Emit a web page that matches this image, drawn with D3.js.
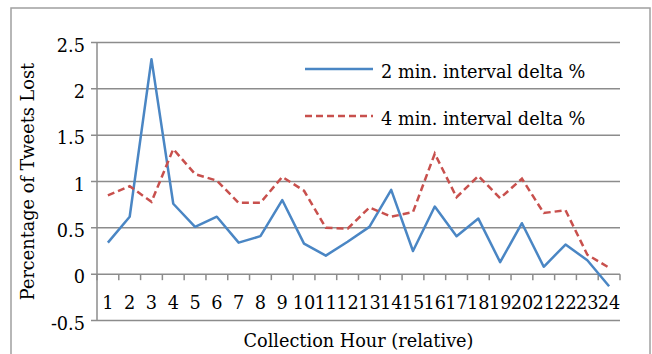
<!DOCTYPE html>
<html>
<head>
<meta charset="utf-8">
<script src="https://cdn.jsdelivr.net/npm/d3@7/dist/d3.min.js"></script>
<style>
  html, body { margin: 0; padding: 0; background: #fff; }
  svg { display: block; }
  text { font-family: "DejaVu Serif", serif; fill: #000; }
</style>
</head>
<body>
<svg id="chart" width="652" height="354"></svg>
<script>
// Collection hours (relative) and per-hour loss percentages
const hours = d3.range(1, 25).map(String);
const twoMinDelta = [0.34, 0.62, 2.32, 0.76, 0.51, 0.62, 0.34, 0.41, 0.80, 0.33, 0.20, 0.35,
                     0.51, 0.91, 0.25, 0.73, 0.41, 0.60, 0.13, 0.55, 0.08, 0.32, 0.15, -0.13];
const fourMinDelta = [0.85, 0.95, 0.78, 1.35, 1.08, 1.01, 0.77, 0.77, 1.05, 0.90, 0.50, 0.49,
                      0.72, 0.62, 0.67, 1.30, 0.83, 1.06, 0.82, 1.03, 0.66, 0.69, 0.21, 0.07];
const yTicks = [-0.5, 0, 0.5, 1, 1.5, 2, 2.5];
const seriesNames = ["2 min. interval delta %", "4 min. interval delta %"];

const svg = d3.select("#chart");
const gridColor = "#8c8c8c";
const fontSize = 17.7;

// outer chart frame
svg.append("rect")
  .attr("x", 11).attr("y", 8).attr("width", 639).attr("height", 360)
  .attr("fill", "none").attr("stroke", "#a0a0a0").attr("stroke-width", 1.5);

const x = d3.scaleBand().domain(hours).range([97, 620]).padding(0);
const y = d3.scaleLinear().domain([-0.5, 2.5]).range([320.5, 42.5]);

// horizontal gridlines (extend left as tick marks)
svg.append("g").selectAll("line").data(yTicks).join("line")
  .attr("x1", 91).attr("x2", 620)
  .attr("y1", d => y(d)).attr("y2", d => y(d))
  .attr("stroke", gridColor).attr("stroke-width", 1.5);

// vertical value axis
svg.append("line")
  .attr("x1", 97).attr("x2", 97).attr("y1", y(2.5)).attr("y2", y(-0.5))
  .attr("stroke", gridColor).attr("stroke-width", 1.5);

// y tick labels (plain hyphen for negatives)
svg.append("g").selectAll("text").data(yTicks).join("text")
  .attr("x", 85).attr("y", d => y(d) + 9)
  .attr("text-anchor", "end")
  .attr("font-size", fontSize)
  .text(d => String(d));

// category tick marks hanging below the zero line
const boundaries = hours.map(h => x(h)).concat([x.range()[1]]);
svg.append("g").selectAll("line").data(boundaries).join("line")
  .attr("x1", d => d).attr("x2", d => d)
  .attr("y1", y(0)).attr("y2", y(0) + 6)
  .attr("stroke", gridColor).attr("stroke-width", 1.5);

// category labels
svg.append("g").selectAll("text").data(hours).join("text")
  .attr("x", d => x(d) + x.bandwidth() / 2).attr("y", 309)
  .attr("text-anchor", "middle")
  .attr("font-size", fontSize)
  .text(d => d);

// series lines
const line = d3.line()
  .x((d, i) => x(hours[i]) + x.bandwidth() / 2)
  .y(d => y(d));

svg.append("path").datum(twoMinDelta)
  .attr("d", line).attr("fill", "none")
  .attr("stroke", "#4a86c4").attr("stroke-width", 2.5)
  .attr("stroke-linejoin", "round");

svg.append("path").datum(fourMinDelta)
  .attr("d", line).attr("fill", "none")
  .attr("stroke", "#c8504d").attr("stroke-width", 2.5)
  .attr("stroke-dasharray", "7,4");

// legend
const legend = svg.append("g");
const legendRows = [
  { name: seriesNames[0], color: "#4a86c4", dash: null, y: 69 },
  { name: seriesNames[1], color: "#c8504d", dash: "7,4", y: 116 }
];
legendRows.forEach(r => {
  legend.append("line")
    .attr("x1", 305).attr("x2", 373).attr("y1", r.y).attr("y2", r.y)
    .attr("stroke", r.color).attr("stroke-width", 2.5)
    .attr("stroke-dasharray", r.dash);
  legend.append("text")
    .attr("x", 381).attr("y", r.y + 8.5)
    .attr("font-size", fontSize)
    .text(r.name);
});

// axis titles
svg.append("text")
  .attr("x", 358.5).attr("y", 346.5)
  .attr("text-anchor", "middle")
  .attr("font-size", fontSize)
  .text("Collection Hour (relative)");

svg.append("text")
  .attr("transform", "translate(34,181.5) rotate(-90)")
  .attr("text-anchor", "middle")
  .attr("font-size", fontSize)
  .text("Percentage of Tweets Lost");
</script>
</body>
</html>
